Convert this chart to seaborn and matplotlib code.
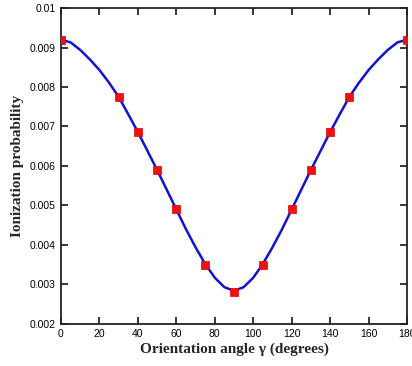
import numpy as np
import pandas as pd
import matplotlib
matplotlib.use('Agg')
import matplotlib.pyplot as plt
import seaborn as sns

# computed points (red squares)
angles = [0, 30, 40, 50, 60, 75, 90, 105, 120, 130, 140, 150, 180]
prob = [0.00920, 0.00775, 0.00686, 0.00590, 0.00490, 0.00348, 0.00282,
        0.00348, 0.00490, 0.00590, 0.00686, 0.00775, 0.00920]

# fitted curve every 5 degrees
curve_angles = [0, 5, 10, 15, 20, 25, 30, 35, 40, 45, 50, 55, 60, 65, 70, 75, 80, 85, 90,
                95, 100, 105, 110, 115, 120, 125, 130, 135, 140, 145, 150, 155, 160, 165,
                170, 175, 180]
curve_prob = [0.00920, 0.00913, 0.00894, 0.00870, 0.00843, 0.00811, 0.00775, 0.00731,
              0.00686, 0.00638, 0.00590, 0.00540, 0.00490, 0.00440, 0.00394, 0.00352,
              0.00317, 0.00293, 0.00284,
              0.00293, 0.00317, 0.00352, 0.00394, 0.00440, 0.00490, 0.00540, 0.00590,
              0.00638, 0.00686, 0.00731, 0.00775, 0.00811, 0.00843, 0.00870, 0.00894,
              0.00913, 0.00920]

df_pts = pd.DataFrame({'angle': angles, 'prob': prob})
df_curve = pd.DataFrame({'angle': curve_angles, 'prob': curve_prob})

sns.set_style('ticks')
plt.rcParams['font.family'] = ['Liberation Sans', 'DejaVu Sans']

fig = plt.figure(figsize=(4.12, 3.66), dpi=100)
ax = fig.add_axes([0.148, 0.115, 0.840, 0.863])

sns.lineplot(data=df_curve, x='angle', y='prob', color='#1212d4', linewidth=1.8, ax=ax)
sns.scatterplot(data=df_pts, x='angle', y='prob', marker='s', color='#ee1111',
                edgecolor='#dd0000', s=26, linewidth=0.5, zorder=3, ax=ax)

ax.set_xlim(0, 180)
ax.set_ylim(0.002, 0.01)
ax.set_xticks(np.arange(0, 181, 20))
ax.set_yticks(np.arange(0.002, 0.0101, 0.001))
ax.set_yticklabels(['0.002', '0.003', '0.004', '0.005', '0.006', '0.007',
                    '0.008', '0.009', '0.01'])
ax.tick_params(direction='in', top=True, right=True, length=5, width=1.1,
               labelsize=7.5, pad=4, colors='black')
for s in ax.spines.values():
    s.set_linewidth(1.3)
    s.set_color('#222222')

ax.set_xlabel('Orientation angle γ (degrees)', family=['Liberation Serif'],
              fontweight='bold', fontsize=11, labelpad=2)
ax.set_ylabel('Ionization probability', family=['Liberation Serif'],
              fontweight='bold', fontsize=11, labelpad=4)

fig.savefig('out.png', dpi=100)
